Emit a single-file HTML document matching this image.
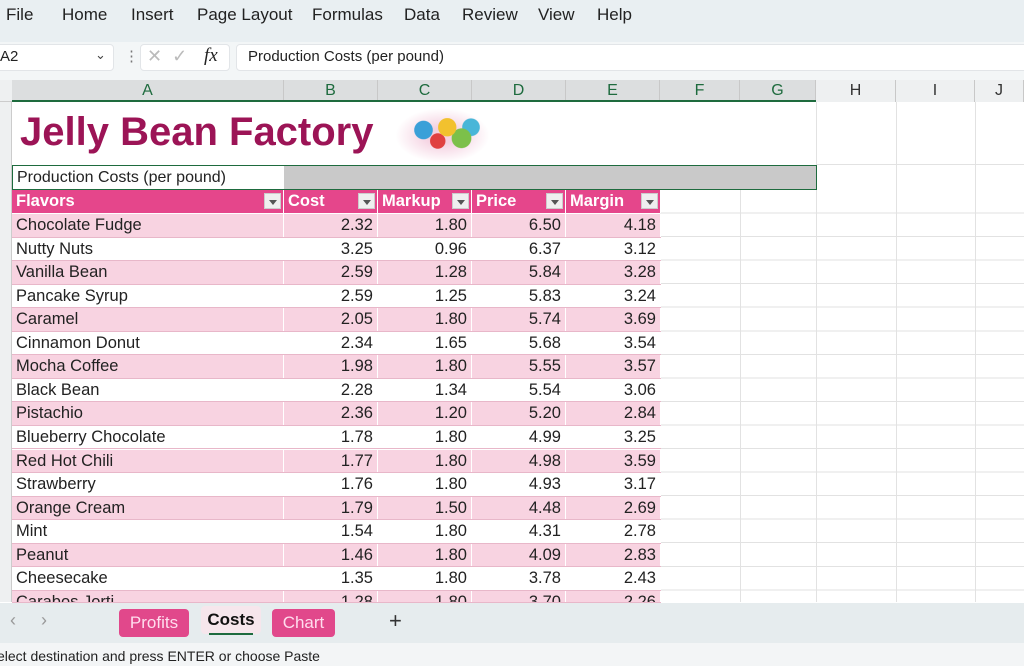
<!DOCTYPE html>
<html><head><meta charset="utf-8"><style>
*{margin:0;padding:0;box-sizing:border-box}
body{width:1024px;height:666px;overflow:hidden;background:#fff;font-family:"Liberation Sans",sans-serif;position:relative;color:#222}
.a{position:absolute}
.menu{left:0;top:0;width:1024px;height:42px;background:#e9eff2}
.menu span{position:absolute;top:5px;font-size:17px;color:#222}
.fbar{left:0;top:42px;width:1024px;height:38px;background:#f3f6f7}
.box{background:#fff;border:1px solid #e2e5e8;border-radius:4px}
.colh{top:80px;height:22px;font-size:16px;text-align:center;line-height:22px;color:#333;border-right:1px solid #c8c8c8;background:#eef0f1}
.sel{background:#dcdedf;color:#1e6b3e}
.row{left:12px;width:649px;height:23.55px;font-family:"Liberation Sans",sans-serif;font-size:16.5px}
.row div{position:absolute;top:0;height:100%;line-height:23px;border-right:1px solid #fff}
.p{background:#f8d3e1}
.w{background:#fff}
.num{text-align:right;padding-right:4px}
.hdr div{color:#fff;font-weight:bold;padding-left:4px}
.dd{position:absolute;top:3px;width:17px;height:16px;background:#efefef;border:1px solid #ccc}
.dd:after{content:"";position:absolute;left:4px;top:6px;border:4px solid transparent;border-top:5px solid #555}
.tab{top:609px;height:28px;border-radius:4px;font-size:17px;line-height:28px;text-align:center}
</style></head><body>
<div class="a menu">
<span style="left:6px">File</span><span style="left:62px">Home</span><span style="left:131px">Insert</span><span style="left:197px">Page Layout</span><span style="left:312px">Formulas</span><span style="left:404px">Data</span><span style="left:462px">Review</span><span style="left:538px">View</span><span style="left:597px">Help</span>
</div>
<div class="a fbar"></div>
<div class="a box" style="left:-4px;top:44px;width:118px;height:27px"></div>
<div class="a" style="left:0;top:48px;font-size:15px">A2</div>
<div class="a" style="left:95px;top:47px;font-size:13px;color:#444">&#8964;</div>
<div class="a" style="left:124px;top:47px;font-size:15px;color:#777">&#8942;</div>
<div class="a box" style="left:140px;top:44px;width:90px;height:27px"></div>
<div class="a" style="left:147px;top:46px;font-size:18px;color:#bbb">&#10005;&nbsp;&nbsp;&#10003;</div>
<div class="a" style="left:204px;top:45px;font-size:19px;font-style:italic;font-family:'Liberation Serif',serif">fx</div>
<div class="a box" style="left:236px;top:44px;width:800px;height:27px"></div>
<div class="a" style="left:248px;top:48px;font-size:15px">Production Costs (per pound)</div>
<!-- column headers -->
<div class="a" style="left:0;top:80px;width:1024px;height:22px;background:#eef0f1;border-bottom:1px solid #ccc"></div>
<div class="a colh sel" style="left:12px;width:272px">A</div>
<div class="a colh sel" style="left:284px;width:94px">B</div>
<div class="a colh sel" style="left:378px;width:94px">C</div>
<div class="a colh sel" style="left:472px;width:94px">D</div>
<div class="a colh sel" style="left:566px;width:94px">E</div>
<div class="a colh sel" style="left:660px;width:80px">F</div>
<div class="a colh sel" style="left:740px;width:76px">G</div>
<div class="a colh" style="left:816px;width:80px">H</div>
<div class="a colh" style="left:896px;width:79px">I</div>
<div class="a colh" style="left:975px;width:49px">J</div>
<div class="a" style="left:12px;top:100px;width:804px;height:2px;background:#1e6b3e"></div>
<div class="a" style="left:0;top:102px;width:12px;height:500px;background:#eef0f1;border-right:1px solid #ccc"></div>
<!-- grid lines right area -->
<div class="a" style="left:660px;top:190px;width:364px;height:413px;background:repeating-linear-gradient(to bottom,transparent 0,transparent 22.55px,#e2e2e2 22.55px,#e2e2e2 23.55px)"></div>
<div class="a" style="left:816px;top:164px;width:208px;height:1px;background:#e2e2e2"></div>
<div class="a" style="left:740px;top:190px;width:1px;height:412px;background:#e2e2e2"></div>
<div class="a" style="left:816px;top:102px;width:1px;height:500px;background:#e2e2e2"></div>
<div class="a" style="left:896px;top:102px;width:1px;height:500px;background:#e2e2e2"></div>
<div class="a" style="left:975px;top:102px;width:1px;height:500px;background:#e2e2e2"></div>
<!-- title -->
<div class="a" style="left:20px;top:110px;font-size:40px;font-weight:bold;color:#9c1456">Jelly Bean Factory</div>
<div class="a" style="left:395px;top:108px;width:95px;height:55px;border-radius:50%;background:radial-gradient(circle at 30% 40%,#3aa0d8 0 12%,transparent 13%),radial-gradient(circle at 55% 35%,#f2c12e 0 14%,transparent 15%),radial-gradient(circle at 70% 55%,#7cc04a 0 13%,transparent 14%),radial-gradient(circle at 45% 60%,#e04040 0 12%,transparent 13%),radial-gradient(circle at 80% 35%,#49b6d8 0 10%,transparent 11%),radial-gradient(ellipse,#f4d0e0 20%,#fff 70%)"></div>
<!-- row 2 -->
<div class="a" style="left:284px;top:166px;width:532px;height:23px;background:#c9c9c9"></div>
<div class="a" style="left:12px;top:165px;width:805px;height:25px;border:1.5px solid #1e6b3e"></div>
<div class="a" style="left:17px;top:169px;font-size:16px">Production Costs (per pound)</div>
<!-- header row -->
<div class="a row hdr" style="top:190px;height:23px;background:#e5468b">
<div style="left:0;width:272px">Flavors</div>
<div style="left:272px;width:94px">Cost</div>
<div style="left:366px;width:94px">Markup</div>
<div style="left:460px;width:94px">Price</div>
<div style="left:554px;width:95px">Margin</div>
</div>
<div class="a dd" style="left:264px;top:193px"></div>
<div class="a dd" style="left:358px;top:193px"></div>
<div class="a dd" style="left:452px;top:193px"></div>
<div class="a dd" style="left:546px;top:193px"></div>
<div class="a dd" style="left:641px;top:193px"></div>
<div id="rows"></div>
<script>
var d=[["Chocolate Fudge","2.32","1.80","6.50","4.18"],["Nutty Nuts","3.25","0.96","6.37","3.12"],["Vanilla Bean","2.59","1.28","5.84","3.28"],["Pancake Syrup","2.59","1.25","5.83","3.24"],["Caramel","2.05","1.80","5.74","3.69"],["Cinnamon Donut","2.34","1.65","5.68","3.54"],["Mocha Coffee","1.98","1.80","5.55","3.57"],["Black Bean","2.28","1.34","5.54","3.06"],["Pistachio","2.36","1.20","5.20","2.84"],["Blueberry Chocolate","1.78","1.80","4.99","3.25"],["Red Hot Chili","1.77","1.80","4.98","3.59"],["Strawberry","1.76","1.80","4.93","3.17"],["Orange Cream","1.79","1.50","4.48","2.69"],["Mint","1.54","1.80","4.31","2.78"],["Peanut","1.46","1.80","4.09","2.83"],["Cheesecake","1.35","1.80","3.78","2.43"],["Carabos Jorti","1.28","1.80","3.70","2.26"]];
var h="";
d.forEach(function(r,i){var t=214+i*23.55;var c=i%2?"w":"p";var hh=Math.min(23.55,603-t);
h+='<div class="a row '+c+'" style="top:'+t+'px;height:'+hh+'px;overflow:hidden;border-bottom:1px solid #e8b7c9"><div style="left:0;width:272px;padding-left:4px">'+r[0]+'</div><div class="num" style="left:272px;width:94px">'+r[1]+'</div><div class="num" style="left:366px;width:94px">'+r[2]+'</div><div class="num" style="left:460px;width:94px">'+r[3]+'</div><div class="num" style="left:554px;width:95px">'+r[4]+'</div></div>';});
document.getElementById("rows").innerHTML=h;
</script>
<!-- tabs -->
<div class="a" style="left:0;top:603px;width:1024px;height:40px;background:#e6ecee"></div>
<div class="a" style="left:10px;top:610px;font-size:18px;color:#999">&#8249;&nbsp;&nbsp;&nbsp;&nbsp;&nbsp;&#8250;</div>
<div class="a tab" style="left:119px;width:70px;background:#e1488b;color:#fde">Profits</div>
<div class="a tab" style="left:201px;width:60px;background:#f6e6ec;color:#111;font-weight:bold;top:606px">Costs</div>
<div class="a" style="left:209px;top:633px;width:44px;height:2px;background:#1e6b3e"></div>
<div class="a tab" style="left:272px;width:63px;background:#e1488b;color:#fde">Chart</div>
<div class="a" style="left:389px;top:608px;font-size:22px;color:#333">+</div>
<div class="a" style="left:0;top:643px;width:1024px;height:23px;background:#f3f5f6"></div>
<div class="a" style="left:-3px;top:648px;font-size:14px;color:#222">elect destination and press ENTER or choose Paste</div>
</body></html>
